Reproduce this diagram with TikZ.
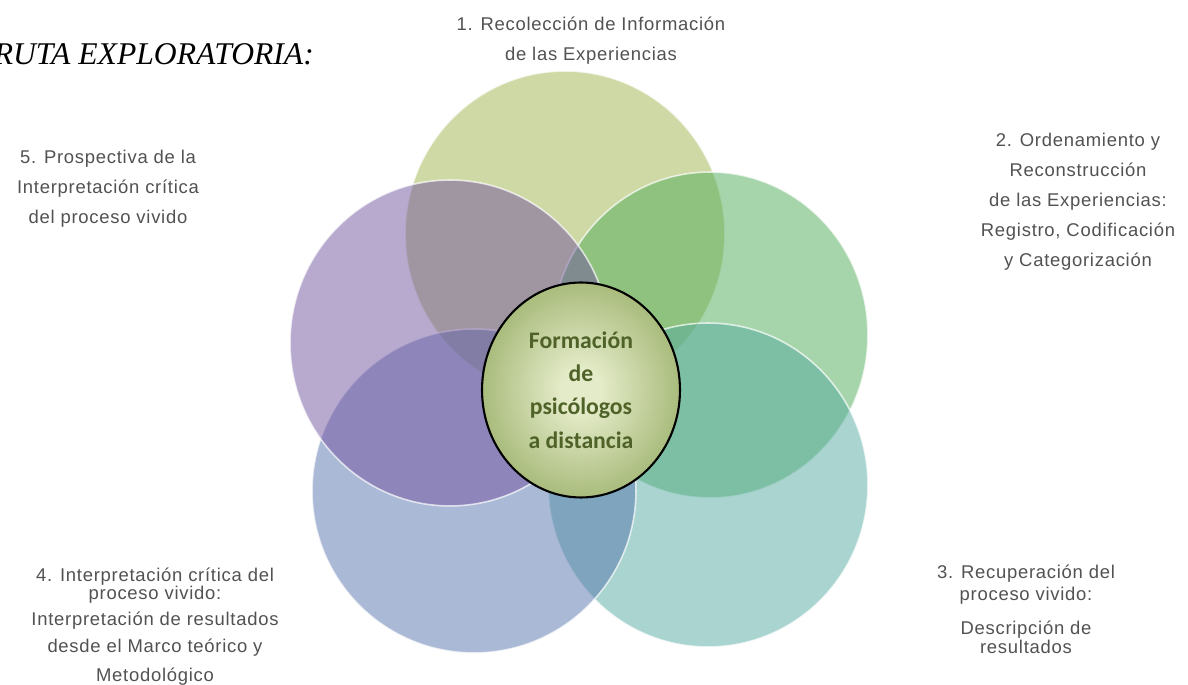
\documentclass[tikz,border=0pt]{standalone}
\usepackage{fontspec}
\setmainfont{Liberation Serif}
\newfontfamily\labelfont[LetterSpace=4]{Liberation Sans}
\newfontfamily\hubfont{Carlito}
\usetikzlibrary{shapes.geometric}

\definecolor{leaf}{HTML}{9FB54D}
\definecolor{fern}{HTML}{51AD59}
\definecolor{sea}{HTML}{55ABA1}
\definecolor{slate}{HTML}{5775AD}
\definecolor{lilac}{HTML}{7355A1}
\definecolor{hubinner}{HTML}{E4EBC8}
\definecolor{hubouter}{HTML}{77933C}
\definecolor{hubtext}{HTML}{4F6228}
\pgfdeclareradialshading{hubglow}{\pgfpoint{0bp}{0bp}}{color(0bp)=(hubinner); color(5bp)=(hubinner); color(42bp)=(hubouter); color(50bp)=(hubouter)}

\begin{document}
\begin{tikzpicture}[x=0.02cm, y=-0.02cm]
  \tikzset{
    venn/.style={ellipse, inner sep=0em, fill opacity=0.5, draw=white, draw opacity=0.7, line width=0.9pt},
    hub/.style={ellipse, draw=black, line width=1.2pt, shade, shading=hubglow, text=hubtext, font=\hubfont\bfseries\fontsize{13.5}{19}\selectfont, align=center, minimum width=3.96cm, minimum height=4.3cm, inner sep=0em},
    steplabel/.style={text=black!68, font=\labelfont\fontsize{10.5}{17}\selectfont, align=center, anchor=north, inner sep=0em},
  }
  \useasboundingbox[fill=white] (0,0) rectangle (1188,685);

  \node (c1) at (565,234) [venn, fill=leaf, minimum width=6.4cm, minimum height=6.52cm] {};
  \node (c2) at (710,335) [venn, fill=fern, minimum width=6.32cm, minimum height=6.52cm] {};
  \node (c3) at (708,485) [venn, fill=sea, minimum width=6.4cm, minimum height=6.48cm] {};
  \node (c4) at (474,491) [venn, fill=slate, minimum width=6.48cm, minimum height=6.48cm] {};
  \node (c5) at (450,343) [venn, fill=lilac, minimum width=6.4cm, minimum height=6.52cm] {};

  \node (hub) at (581,390) [hub] {Formación\\de\\psicólogos\\a distancia};

  \node (title) at (320,65) [anchor=base east, font=\itshape\fontsize{18}{22}\selectfont] {RUTA EXPLORATORIA:};

  \node (l1) at (591,17) [steplabel] {1. Recolección de Información\\de las Experiencias};
  \node (l2) at (1078,133) [steplabel] {2. Ordenamiento y\\Reconstrucción\\de las Experiencias:\\Registro, Codificación\\y Categorización};
  \node (l3) at (1026,565) [steplabel] {3. Recuperación del\\[-4.5pt]proceso vivido:\\[2.3pt]Descripción de\\[-6.2pt]resultados};
  \node (l4) at (155,568) [steplabel] {4. Interpretación crítica del\\[-6.8pt]proceso vivido:\\[-2.3pt]Interpretación de resultados\\[-1.7pt]desde el Marco teórico y\\[-0.6pt]Metodológico};
  \node (l5) at (108,150) [steplabel] {5. Prospectiva de la\\Interpretación crítica\\del proceso vivido};
\end{tikzpicture}
\end{document}
